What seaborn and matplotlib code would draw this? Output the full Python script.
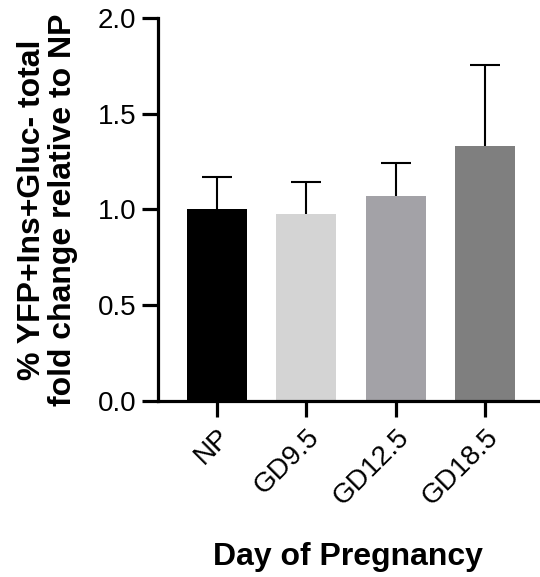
import matplotlib
matplotlib.use("Agg")
import matplotlib.pyplot as plt
import seaborn as sns
import pandas as pd
import numpy as np

sns.set_theme(style="ticks")
plt.rcParams["font.family"] = ["Liberation Sans", "DejaVu Sans"]
plt.rcParams["text.color"] = "black"
plt.rcParams["axes.labelcolor"] = "black"

# data
groups = ["NP", "GD9.5", "GD12.5", "GD18.5"]
fold_change = [1.0, 0.976, 1.072, 1.333]
sem = [0.17, 0.165, 0.168, 0.42]
bar_colors = ["#000000", "#d4d4d4", "#a3a2a7", "#7f7f7f"]

df = pd.DataFrame({"group": groups, "value": fold_change})

fig = plt.figure(figsize=(5.4, 5.77), dpi=100)
ax = fig.add_axes([0.2926, 0.305, 0.705, 0.664])

sns.barplot(data=df, x="group", y="value", hue="group", palette=bar_colors,
            errorbar=None, width=0.67, legend=False, ax=ax, zorder=2,
            saturation=1, edgecolor="none")

xpos = np.arange(len(groups))
eb = ax.errorbar(xpos, fold_change, yerr=[np.zeros(len(sem)), sem], fmt="none",
                 ecolor="black", elinewidth=1.5, capsize=10.8, capthick=1.5, zorder=1)
eb[1][0].set_visible(False)

ax.set_ylim(0, 2.0)
ax.set_xlim(-0.66, 3.6)
ax.set_yticks([0.0, 0.5, 1.0, 1.5, 2.0])
ax.set_yticklabels(["0.0", "0.5", "1.0", "1.5", "2.0"])

sns.despine(ax=ax)
for side in ["left", "bottom"]:
    ax.spines[side].set_linewidth(2.3)
    ax.spines[side].set_color("black")

ax.tick_params(axis="both", width=2.3, length=11.5, color="black",
               labelsize=20, labelcolor="black", pad=4)
ax.tick_params(axis="x", pad=5)
plt.setp(ax.get_xticklabels(), rotation=45, ha="right", rotation_mode="anchor")

ax.set_xlabel("Day of Pregnancy", fontsize=23, fontweight="bold", labelpad=23)
ax.set_ylabel("% YFP+Ins+Gluc- total\nfold change relative to NP", fontsize=23,
              fontweight="bold", linespacing=1.05, labelpad=14)

fig.savefig("out.png", dpi=100)
plt.close()
